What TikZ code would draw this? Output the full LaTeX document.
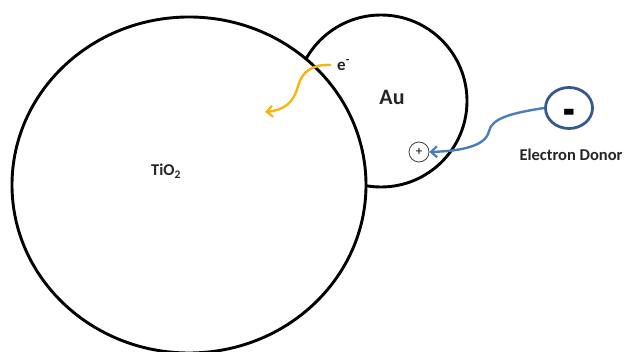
\documentclass[tikz,border=0pt]{standalone}
\usepackage{fontspec}
\usepackage{graphicx}
\setmainfont{Carlito}
\usetikzlibrary{arrows.meta,shapes.geometric}
\definecolor{goldarrow}{HTML}{F5B70F}
\definecolor{bluearrow}{HTML}{4A7EBB}
\definecolor{donorblue}{HTML}{35588F}
\definecolor{labelgrey}{HTML}{262626}
\tikzset{
  particle/.style={draw=black, line width=2.9pt, fill=white},
  lbl/.style={font=\bfseries\fontsize{16.5}{18}\selectfont, text=labelgrey, inner sep=0pt},
  charge/.style={circle, draw=black!75, line width=0.8pt, minimum size=20pt, inner sep=0pt},
  donorring/.style={ellipse, draw=donorblue, line width=2.8pt, minimum width=47pt, minimum height=41pt, inner sep=0pt},
  flow/.style={line width=2.4pt, -{Straight Barb[length=6pt,width=11pt,line width=2.2pt]}}
}
\begin{document}
\begin{tikzpicture}[x=1pt,y=-1pt]
  \useasboundingbox (0,0) rectangle (639,352);
  % gold particle behind, oxide particle in front
  \draw[particle] (381,101) ellipse [x radius=86, y radius=86];
  \draw[particle] (189,185) ellipse [x radius=177, y radius=168];
  % labels
  \node[lbl] (tio) at (166,171) {TiO\textsubscript{2}};
  \node[lbl, font=\bfseries\fontsize{22}{24}\selectfont] (au) at (392,97) {Au};
  \node[lbl, font=\bfseries\fontsize{17}{19}\selectfont, anchor=west] (el) at (337,65) {e\textsuperscript{-}};
  \node[charge, font=\fontsize{13}{13}\selectfont] (plus) at (419,152) {+};
  \node[donorring] (donor) at (569,108) {};
  \node[font=\bfseries\fontsize{38}{38}\selectfont, text=black, inner sep=0pt] (minus) at (569,119)
       {\scalebox{1}[1.5]{-}};
  \node[lbl] (donortxt) at (571,155) {Electron Donor};
  \coordinate (etip) at (265,112);
  % electron injection into the oxide
  \draw[flow, goldarrow] ([xshift=-6pt]el.west) .. controls (312,64) and (302,72) .. (298,86)
        .. controls (294,102) and (285,110) .. (etip);
  % donor refilling the hole
  \draw[flow, bluearrow] (donor.west) .. controls (512,113) and (492,118) .. (489,131)
        .. controls (486,146) and (462,151) .. (plus.east);
\end{tikzpicture}
\end{document}
